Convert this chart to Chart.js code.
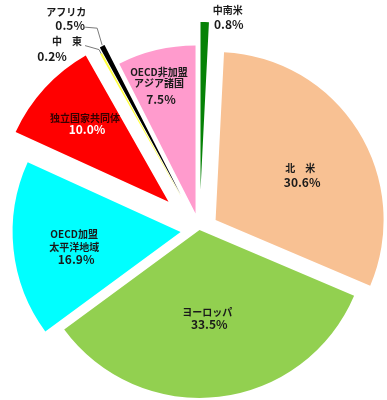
<!DOCTYPE html>
<html lang="ja">
<head>
  <meta charset="UTF-8">
  <title>地域別シェア</title>
  <style>
    body { margin: 0; background: #fff; }
    #wrap { width: 387px; height: 400px; position: relative; }
  </style>
  <script src="https://cdn.jsdelivr.net/npm/chart.js@4"></script>
</head>
<body>
  <div id="wrap"><canvas id="pie"></canvas></div>

  <script>
    // データ（%）
    const regions = ['中南米', '北米', 'ヨーロッパ', 'OECD加盟太平洋地域', '独立国家共同体', '中東', 'アフリカ', 'OECD非加盟アジア諸国'];
    const shares = [0.8, 30.6, 33.5, 16.9, 10.0, 0.2, 0.5, 7.5];
    const labelLines = [['中南米'], ['北　米'], ['ヨーロッパ'], ['OECD加盟', '太平洋地域'], ['独立国家共同体'], ['中　東'], ['アフリカ'], ['OECD非加盟', 'アジア諸国']];

    const colors = ['#068206', '#F8C193', '#92D050', '#00FFFF', '#FF0000', '#FFFF3C', '#000000', '#FF9BCD'];
    // 切り離し量（px）
    const explodePx = [40, 19, 0, 19, 42, 34, 40, 17];

    const FONT = '"Noto Sans CJK JP", "Noto Sans", sans-serif';

    // 内側ラベル: [半径比, 角度(上から時計回り)]
    const inside = {
      1: { r: 0.57, deg: 62, gap: 14, color: '#1a1a1a' },
      2: { r: 0.53, deg: 175, gap: 12, color: '#1a1a1a' },
      3: { r: 0.64, deg: 262, gap: 12.5, color: '#1a1a1a' },
      4: { r: 0.68, deg: 313, gap: 11, color: '#3a0000', pctColor: '#ffffff' },
      7: { r: 0.79, deg: 344, gap: 11, pctGap: 17, color: '#1a1a1a' }
    };
    // 外側ラベル（先端からのずれ）
    const outside = {
      0: { name: [23, -12], pct: [24, 2] },
      5: { name: [-34, -12], pct: [-49, 3], line: [[-16, -8], [-2, -4], [0, 0]] },
      6: { name: [-36, -34], pct: [-32, -21], line: [[-17, -19], [-5, -18], [0, -1]] }
    };

    function shift(arc, i) {
      const mid = (arc.startAngle + arc.endAngle) / 2;
      return { mid, dx: Math.cos(mid) * explodePx[i], dy: Math.sin(mid) * explodePx[i] };
    }

    // 扇形を中心からずらして描く（offset を使うと細い扇が潰れるため）
    const explodePlugin = {
      id: 'explode',
      beforeDatasetDraw(chart) {
        const ctx = chart.ctx;
        chart.getDatasetMeta(0).data.forEach((arc, i) => {
          const s = shift(arc, i);
          ctx.save();
          ctx.translate(s.dx, s.dy);
          arc.draw(ctx);
          ctx.restore();
        });
        return false;
      }
    };

    const labelPlugin = {
      id: 'sliceLabels',
      afterDatasetsDraw(chart) {
        const ctx = chart.ctx;
        const meta = chart.getDatasetMeta(0);
        ctx.save();
        ctx.textAlign = 'center';
        ctx.textBaseline = 'middle';
        meta.data.forEach((arc, i) => {
          const s0 = shift(arc, i);
          const ax = arc.x + s0.dx;
          const ay = arc.y + s0.dy;
          const R = arc.outerRadius;
          const pct = shares[i].toFixed(1) + '%';

          if (inside[i]) {
            const s = inside[i];
            const a = s.deg * Math.PI / 180;
            const cx = ax + Math.sin(a) * s.r * R;
            const cy = ay - Math.cos(a) * s.r * R;
            const lines = labelLines[i];
            const pg = s.pctGap || s.gap;
            const total = (lines.length - 1) * s.gap + pg;
            let y = cy - total / 2;
            lines.forEach(t => {
              ctx.font = 'bold 10px ' + FONT;
              ctx.fillStyle = s.color;
              ctx.fillText(t, cx, y);
              y += s.gap;
            });
            y += pg - s.gap;
            ctx.font = 'bold 12px ' + FONT;
            ctx.fillStyle = s.pctColor || s.color;
            ctx.fillText(pct, cx + 2, y);
          } else if (outside[i]) {
            const s = outside[i];
            const tx = ax + Math.cos(s0.mid) * R;
            const ty = ay + Math.sin(s0.mid) * R;
            if (s.line) {
              ctx.strokeStyle = '#7a7a7a';
              ctx.lineWidth = 1;
              ctx.beginPath();
              s.line.forEach((pt, k) => {
                if (k === 0) ctx.moveTo(tx + pt[0], ty + pt[1]);
                else ctx.lineTo(tx + pt[0], ty + pt[1]);
              });
              ctx.stroke();
            }
            ctx.fillStyle = '#1a1a1a';
            ctx.font = 'bold 10px ' + FONT;
            ctx.fillText(labelLines[i][0], tx + s.name[0], ty + s.name[1]);
            ctx.font = 'bold 12px ' + FONT;
            ctx.fillText(pct, tx + s.pct[0], ty + s.pct[1]);
          }
        });
        ctx.restore();
      }
    };

    new Chart(document.getElementById('pie'), {
      type: 'pie',
      data: {
        labels: regions,
        datasets: [{
          data: shares,
          backgroundColor: colors,
          borderWidth: 0,
          hoverOffset: 0,
          radius: 168
        }]
      },
      options: {
        responsive: true,
        maintainAspectRatio: false,
        animation: false,
        layout: { padding: { left: 12, right: 0, top: 60, bottom: 0 } },
        plugins: {
          legend: { display: false },
          tooltip: { enabled: false }
        }
      },
      plugins: [explodePlugin, labelPlugin]
    });
  </script>
</body>
</html>
